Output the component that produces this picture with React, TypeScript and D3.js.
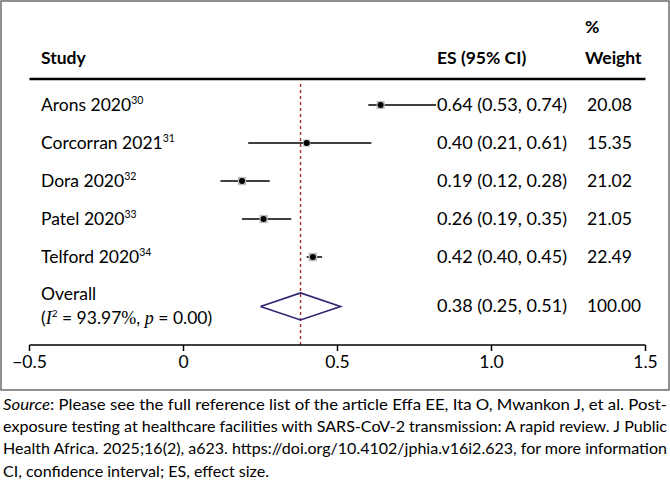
import React from 'react';
import * as d3 from 'd3';

const studies = ['Arons 2020', 'Corcorran 2021', 'Dora 2020', 'Patel 2020', 'Telford 2020'];
const refs = ['30', '31', '32', '33', '34'];
const es = [0.64, 0.40, 0.19, 0.26, 0.42];
// CI ends as drawn in the figure (Arons line is drawn wider than its label)
const ciLo = [0.60, 0.21, 0.12, 0.19, 0.40];
const ciHi = [0.82, 0.61, 0.28, 0.35, 0.45];
const esLabels = ['0.64 (0.53, 0.74)', '0.40 (0.21, 0.61)', '0.19 (0.12, 0.28)', '0.26 (0.19, 0.35)', '0.42 (0.40, 0.45)'];
const weights = ['20.08', '15.35', '21.02', '21.05', '22.49'];

const overallEs = 0.38;
const overallLo = 0.25;
const overallHi = 0.51;
const overallLabel = '0.38 (0.25, 0.51)';
const overallWeight = '100.00';

const ticks = [-0.5, 0, 0.5, 1.0, 1.5];
const tickLabels = ['\u22120.5', '0', '0.5', '1.0', '1.5'];

const sourceLines = [
  'Please see the full reference list of the article Effa EE, Ita O, Mwankon J, et al. Post-',
  'exposure testing at healthcare facilities with SARS-CoV-2 transmission: A rapid review. J Public',
  'Health Africa. 2025;16(2), a623. https://doi.org/10.4102/jphia.v16i2.623, for more information',
  'CI, confidence interval; ES, effect size.',
];

const FONT = 'Lato, "Noto Sans", sans-serif';
const SERIF = '"Liberation Serif", "DejaVu Serif", serif';

export default function App() {
  const W = 670;
  const H = 481;

  const x = d3.scaleLinear().domain([-0.5, 1.5]).range([29.5, 645.5]);
  // row index -> y; overall row sits a bit further down
  const y = d3.scaleLinear().domain([0, 4]).range([105, 257]);
  const yOverall = y(5.3);
  const axisY = 345;

  const box = (w: string) => 1.8 * Math.sqrt(+w);

  const diamond = d3.line<[number, number]>()([
    [x(overallLo), yOverall],
    [x(overallEs), yOverall - 13.5],
    [x(overallHi), yOverall],
    [x(overallEs), yOverall + 13.5],
    [x(overallLo), yOverall],
  ]);

  const colStudy = 41;
  const colEs = 437;
  const colW = 587;

  return (
    <div style={{ position: 'fixed', left: 0, top: 0 }}>
      <svg width={W} height={H} style={{ display: 'block', background: '#fff' }} fontFamily={FONT}>
        <rect x={1} y={1} width={668} height={389} fill="none" stroke="#555" strokeWidth={1.3} />

        {/* header */}
        <g fontWeight="bold" fontSize={17.5} fill="#000">
          <text x={colStudy} y={64}>Study</text>
          <text x={colEs} y={64}>ES (95% CI)</text>
          <text x={colW - 2} y={33}>%</text>
          <text x={colW - 2} y={64}>Weight</text>
        </g>
        <line x1={x(-0.5)} x2={x(1.5)} y1={79} y2={79} stroke="#000" strokeWidth={2.6} />

        {/* pooled estimate line */}
        <line x1={x(overallEs)} x2={x(overallEs)} y1={84} y2={axisY} stroke="#a52a2a" strokeWidth={1.4} strokeDasharray="3,3" />

        {/* study rows */}
        {studies.map((s, i) => {
          const cy = y(i);
          const b = box(weights[i]);
          return (
            <g key={s}>
              <text x={colStudy} y={cy + 6} fontSize={17.5} fill="#000">
                {s}
                <tspan fontSize={10.5} dy={-7}>{refs[i]}</tspan>
              </text>
              <line x1={x(ciLo[i])} x2={x(ciHi[i])} y1={cy} y2={cy} stroke="#000" strokeWidth={1.5} />
              <rect x={x(es[i]) - b / 2} y={cy - b / 2} width={b} height={b} fill="#bdbdbd" />
              <circle cx={x(es[i])} cy={cy} r={3} fill="#000" />
              <text x={colEs} y={cy + 6} fontSize={17.5} fill="#000" textLength={130} lengthAdjust="spacingAndGlyphs">{esLabels[i]}</text>
              <text x={colW} y={cy + 6} fontSize={17.5} fill="#000" textLength={45} lengthAdjust="spacingAndGlyphs">{weights[i]}</text>
            </g>
          );
        })}

        {/* overall */}
        <text x={colStudy} y={yOverall - 6} fontSize={17.5} fill="#000">Overall</text>
        <text x={colStudy} y={yOverall + 18} fontSize={17.5} fill="#000">
          (<tspan fontFamily={SERIF} fontStyle="italic" fontSize={18}>I</tspan>
          <tspan fontSize={10} dy={-7}>2</tspan>
          <tspan dy={7}> = 93.97</tspan>
          <tspan fontFamily={SERIF} fontSize={18}>%</tspan>, <tspan fontFamily={SERIF} fontStyle="italic" fontSize={18}>p</tspan> = 0.00)
        </text>
        <path d={diamond ?? ''} fill="none" stroke="#2f2472" strokeWidth={1.6} />
        <text x={colEs} y={yOverall + 6} fontSize={17.5} fill="#000" textLength={130} lengthAdjust="spacingAndGlyphs">{overallLabel}</text>
        <text x={colW} y={yOverall + 6} fontSize={17.5} fill="#000" textLength={54} lengthAdjust="spacingAndGlyphs">{overallWeight}</text>

        {/* axis */}
        <line x1={x(-0.5)} x2={x(1.5)} y1={axisY} y2={axisY} stroke="#000" strokeWidth={1.5} />
        {ticks.map((t, i) => (
          <g key={t}>
            <line x1={x(t)} x2={x(t)} y1={axisY} y2={axisY + 6} stroke="#000" strokeWidth={1.5} />
            <text x={x(t)} y={axisY + 23} fontSize={17.5} textAnchor="middle" fill="#000">{tickLabels[i]}</text>
          </g>
        ))}

        {/* source note */}
        <g fontSize={15.4} fill="#000">
          <text x={3} y={410} textLength={664} lengthAdjust="spacingAndGlyphs">
            <tspan fontStyle="italic">Source</tspan>: {sourceLines[0]}
          </text>
          <text x={3} y={432} textLength={664} lengthAdjust="spacingAndGlyphs">{sourceLines[1]}</text>
          <text x={3} y={454} textLength={664} lengthAdjust="spacingAndGlyphs">{sourceLines[2]}</text>
          <text x={3} y={477} textLength={266} lengthAdjust="spacingAndGlyphs">{sourceLines[3]}</text>
        </g>
      </svg>
    </div>
  );
}
